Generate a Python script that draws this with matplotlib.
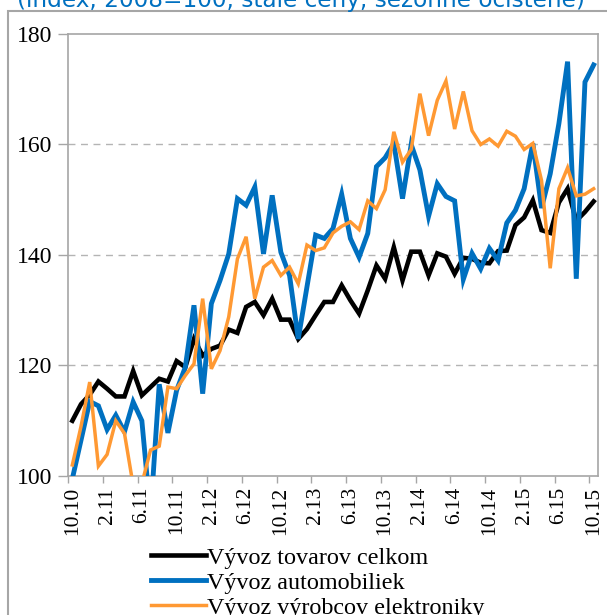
import matplotlib
matplotlib.use('Agg')
import matplotlib.pyplot as plt
import numpy as np
from matplotlib.patches import Rectangle

# monthly index, 10.2010 - 10.2015
total = [110.0, 113.0, 114.7, 117.1, 115.8, 114.4, 114.4, 119.0, 114.6, 116.1,
         117.6, 117.1, 120.8, 119.7, 124.8, 121.8, 123.0, 123.6, 126.5, 125.9,
         130.6, 131.5, 129.1, 132.1, 128.3, 128.3, 124.8, 126.6, 129.1, 131.5,
         131.5, 134.5, 131.8, 129.4, 133.6, 138.1, 135.7, 141.4, 135.4, 140.6,
         140.6, 136.3, 140.3, 139.7, 136.6, 139.5, 139.3, 138.6, 138.5, 140.7,
         140.8, 145.4, 146.8, 149.9, 144.5, 144.0, 149.5, 152.0, 146.2, 147.8,
         149.7]
cars = [99.5, 106.5, 113.5, 112.7, 108.4, 111.0, 108.0, 113.4, 110.0, 93.0,
        116.6, 107.8, 115.5, 119.7, 130.9, 114.9, 131.2, 135.4, 140.2, 150.2,
        149.0, 152.3, 140.2, 150.8, 140.5, 136.3, 124.8, 134.2, 143.6, 143.0,
        144.8, 151.0, 143.0, 139.6, 143.9, 156.0, 157.6, 160.2, 150.2, 160.0,
        155.4, 147.0, 152.9, 150.6, 149.8, 135.6, 140.3, 137.5, 141.2, 139.0,
        145.8, 148.1, 152.0, 160.2, 148.5, 154.7, 163.8, 175.0, 135.7, 171.3,
        174.4]
electronics = [102.0, 109.0, 117.0, 101.8, 103.9, 110.0, 107.7, 98.3, 98.6, 104.7,
               105.4, 116.1, 115.8, 118.2, 120.3, 132.1, 119.4, 122.7, 128.8, 139.3,
               143.3, 132.1, 137.8, 139.0, 136.3, 137.8, 134.8, 141.8, 140.8, 141.3,
               144.0, 145.2, 146.0, 144.6, 149.8, 148.4, 151.8, 162.3, 156.8, 159.1,
               169.2, 161.6, 168.0, 171.5, 162.8, 169.6, 162.5, 160.0, 161.0, 159.7,
               162.4, 161.5, 159.1, 160.2, 153.5, 137.6, 152.0, 155.8, 150.7, 151.0,
               152.0]
tick_labels = ['10.10', '2.11', '6.11', '10.11', '2.12', '6.12', '10.12', '2.13',
               '6.13', '10.13', '2.14', '6.14', '10.14', '2.15', '6.15', '10.15']
series_names = ['Vývoz tovarov celkom', 'Vývoz automobiliek', 'Vývoz výrobcov elektroniky']
title = '(index, 2008=100, stále ceny, sezónne očistené)'

serif = 'Liberation Serif'
gray = '#A6A6A6'

fig = plt.figure(figsize=(6.07, 6.15), dpi=100)
ax = fig.add_axes([68 / 607, 1 - 476 / 615, 530 / 607, 442 / 615])

x = np.arange(len(total))
l1, = ax.plot(x, total, color='black', lw=3.3, solid_joinstyle='miter', zorder=3)
l2, = ax.plot(x, cars, color='#0070C0', lw=3.5, solid_joinstyle='miter', zorder=4)
l3, = ax.plot(x, electronics, color='#FF9933', lw=2.5, solid_joinstyle='miter', zorder=5)

ax.set_xlim(-0.5, len(total) - 0.5)
ax.set_ylim(100, 180)
ax.set_yticks([100, 120, 140, 160, 180])
ax.set_yticklabels(['100', '120', '140', '160', '180'], fontfamily=serif, fontsize=17)
ax.set_xticks(np.arange(0, len(total), 4))
ax.set_xticklabels(tick_labels, rotation=90, fontfamily=serif, fontsize=15.5)
ax.set_xticks(np.arange(-0.5, len(total), 4), minor=True)
ax.tick_params(axis='x', which='major', length=0, pad=8)
ax.tick_params(axis='x', which='minor', length=5, width=1, color=gray, direction='out')
ax.tick_params(axis='y', length=7, width=1, color=gray, pad=4)

for s in ax.spines.values():
    s.set_color(gray)
    s.set_linewidth(1.2)

for v in [120, 140, 160]:
    ax.axhline(v, color='#B4B4B4', lw=1, ls=(0, (5, 4)), zorder=1)

fig.legend([l1, l2, l3], series_names, loc='upper left',
           bbox_to_anchor=(151 / 607, 1 - 547 / 615), frameon=False,
           prop={'family': serif, 'size': 17.4}, handlelength=2.27,
           handletextpad=0.05, labelspacing=0.12, borderaxespad=0, borderpad=0)

fig.text(301 / 607, 1 - 7 / 615, title, color='#0070C0', fontsize=16.7,
         ha='center', va='baseline', family='DejaVu Sans')

fig.patches.append(Rectangle((8 / 607, -0.1), 1.2, 1 - 11 / 615 + 0.1,
                             transform=fig.transFigure, fill=False,
                             edgecolor=gray, lw=1.5, zorder=0))

fig.savefig('out.png', dpi=100)
